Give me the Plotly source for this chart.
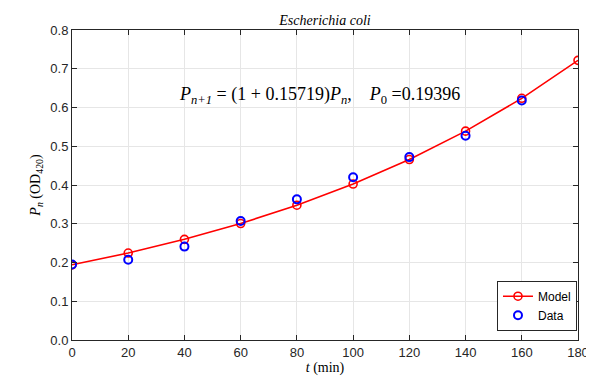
import plotly.graph_objects as go

t_model = [0, 20, 40, 60, 80, 100, 120, 140, 160, 180]
p_model = [0.19396, 0.22445, 0.25973, 0.30056, 0.34781, 0.40248, 0.46575, 0.53896, 0.62368, 0.72172]
t_data = [0, 20, 40, 60, 80, 100, 120, 140, 160]
p_data = [0.195, 0.207, 0.241, 0.307, 0.363, 0.420, 0.472, 0.527, 0.618]
x_ticks = [0, 20, 40, 60, 80, 100, 120, 140, 160, 180]
y_ticks = [0, 0.1, 0.2, 0.3, 0.4, 0.5, 0.6, 0.7, 0.8]

axis_col = "#262626"
serif = "Liberation Serif, DejaVu Serif, serif"

fig = go.Figure()
fig.add_trace(go.Scatter(
    x=t_model, y=p_model, mode="lines+markers", name="Model",
    line=dict(color="#ff0000", width=1.6),
    marker=dict(symbol="circle-open", size=8, color="#ff0000", line=dict(width=1.6)),
))
fig.add_trace(go.Scatter(
    x=t_data, y=p_data, mode="markers", name="Data",
    marker=dict(symbol="circle-open", size=8, color="#0000ff", line=dict(width=2)),
))

# page body has an 8px margin, so the figure is 8px smaller and offset
fig.update_layout(
    width=586, height=372,
    margin=dict(l=64, r=16, t=22, b=40, autoexpand=False),
    paper_bgcolor="white", plot_bgcolor="white",
    font=dict(family="Liberation Sans, Arial, sans-serif", size=13, color=axis_col),
    title=dict(text="<i>Escherichia coli</i>", x=0.5, xanchor="center", xref="paper",
               y=1, yref="paper", yanchor="bottom", pad=dict(b=5), automargin=False,
               font=dict(family=serif, size=14, color="#000000")),
    showlegend=True,
    legend=dict(x=0.998, y=0.03, xanchor="right", yanchor="bottom",
                bordercolor=axis_col, borderwidth=1, bgcolor="white",
                font=dict(size=12, color="#000000"), tracegroupgap=0),
    xaxis=dict(range=[0, 180], tickvals=x_ticks, ticks="inside", ticklen=5,
               tickcolor=axis_col, showline=True, linecolor=axis_col, linewidth=1,
               mirror="ticks", showgrid=True, gridcolor="#e6e6e6", zeroline=False,
               automargin=False, tickfont=dict(size=13, color=axis_col),
               title=dict(text="<i>t</i> (min)", font=dict(family=serif, size=14, color="#000000"),
                          standoff=2)),
    yaxis=dict(range=[0, 0.8], tickvals=y_ticks, tickformat=".1f", ticks="inside", ticklen=5,
               tickcolor=axis_col, showline=True, linecolor=axis_col, linewidth=1,
               mirror="ticks", showgrid=True, gridcolor="#e6e6e6", zeroline=False,
               automargin=False, tickfont=dict(size=13, color=axis_col),
               title=dict(text="<i>P<sub>n</sub></i> (OD<sub>420</sub>)",
                          font=dict(family=serif, size=14, color="#000000"), standoff=6)),
)

fig.add_annotation(
    x=88, y=0.632, xref="x", yref="y", xanchor="center", yanchor="middle",
    text="<i>P<sub>n+1</sub></i> = (1 + 0.15719)<i>P<sub>n</sub></i>,    <i>P</i><sub>0</sub> =0.19396",
    showarrow=False, font=dict(family=serif, size=18, color="#000000"),
)

fig.write_html("out.html")
